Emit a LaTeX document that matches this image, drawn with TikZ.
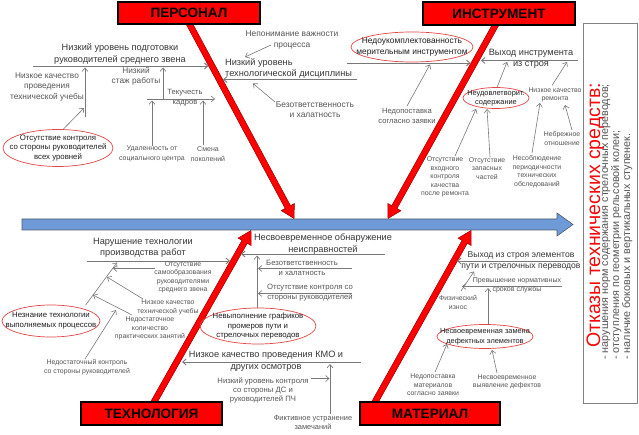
\documentclass[tikz,border=0pt]{standalone}
\usepackage{fontspec}
\setmainfont{Liberation Sans}
\usetikzlibrary{arrows.meta,shapes.geometric,calc}
\definecolor{linegray}{RGB}{120,120,120}
\definecolor{txtmain}{RGB}{55,55,55}
\definecolor{txtsub}{RGB}{85,85,85}
\definecolor{txtell}{RGB}{30,30,30}
\definecolor{ellred}{RGB}{225,70,70}
\definecolor{bonered}{RGB}{255,0,0}
\definecolor{boneedge}{RGB}{150,0,0}
\definecolor{spinefill}{RGB}{110,155,215}
\definecolor{spineedge}{RGB}{80,90,110}
\definecolor{boxgray}{RGB}{130,130,130}
\definecolor{ttlred}{RGB}{245,10,10}
\newcommand{\fishbone}[2]{%
 \filldraw[fill=bonered, draw=boneedge, line width=0.5pt]
   let \p1=($(#2)-(#1)$), \n1={veclen(\x1,\y1)}, \n2={atan2(\y1,\x1)} in
   [shift={(#1)}, rotate=\n2]
   (0,3) -- ({\n1-13},3) -- ({\n1-13},7.5) -- (\n1,0) -- ({\n1-13},-7.5) -- ({\n1-13},-3) -- (0,-3) -- cycle;}
\begin{document}
\begin{tikzpicture}[x=1pt,y=-1pt,
  catbox/.style={draw=black, line width=1.2pt, fill=bonered, font=\fontsize{13.6}{14}\selectfont\bfseries, inner sep=0pt},
  mainlbl/.style={text=txtmain, font=\fontsize{9.2}{11.5}\selectfont, align=center, inner sep=0pt},
  medlbl/.style={text=txtsub, font=\fontsize{8.3}{10.3}\selectfont, align=center, inner sep=0pt},
  smlbl/.style={text=txtsub, font=\fontsize{6.9}{8.5}\selectfont, align=center, inner sep=0pt},
  elltxt/.style={text=txtell, font=\fontsize{7.8}{9.8}\selectfont, align=center, inner sep=0pt},
  ell/.style={draw=ellred, line width=0.7pt},
  arr/.style={draw=linegray, line width=0.6pt, -{Straight Barb[length=3.5pt,width=6pt]}},
  marr/.style={arr, line width=0.85pt},
]
\useasboundingbox (0,0) rectangle (639,435);
\fill[white] (0,0) rectangle (639,435);

% ---- spine
\filldraw[fill=spinefill, draw=spineedge, line width=0.6pt]
  (22,219) -- (557,219) -- (557,213) -- (573,224.5) -- (557,236) -- (557,230) -- (22,230) -- cycle;

% ---- bones
\coordinate (pS) at (187.3,20);  \coordinate (pT) at (294,218.5);
\coordinate (iS) at (498.3,20);  \coordinate (iT) at (388,218.5);
\coordinate (tS) at (150.6,408); \coordinate (tT) at (251,230.5);
\coordinate (mS) at (371.6,408); \coordinate (mT) at (471,230.5);
\fishbone{pS}{pT}
\fishbone{iS}{iT}
\fishbone{tS}{tT}
\fishbone{mS}{mT}

% ---- category boxes
\node[catbox, minimum width=142pt, minimum height=22pt] (pers)  at (189,13)    {ПЕРСОНАЛ};
\node[catbox, minimum width=152pt, minimum height=23pt] (instr) at (499,13.5)  {ИНСТРУМЕНТ};
\node[catbox, minimum width=141pt, minimum height=23pt] (tech)  at (151.5,413.5) {ТЕХНОЛОГИЯ};
\node[catbox, minimum width=140pt, minimum height=23pt] (mat)   at (430,413.5) {МАТЕРИАЛ};

% ================= ПЕРСОНАЛ
\node[mainlbl] (t1) at (120,54) {Низкий уровень подготовки\\руководителей среднего звена};
\coordinate (l1s) at (33,66); \coordinate (l1e) at (208.5,66);
\draw[marr] (l1s) -- (l1e);
\coordinate (v1s) at (85,117); \coordinate (v1e) at (85,67.5);
\draw[arr] (v1s) -- (v1e);
\node[medlbl] (t1a) at (47,87) {Низкое качество\\проведения\\технической учебы};
\coordinate (e1c) at (58,148);
\draw[ell] (e1c) ellipse [x radius=55pt, y radius=18.5pt];
\node[elltxt] (e1) at (e1c) {Отсутствие контроля\\со стороны руководителей\\всех уровней};
\coordinate (e1a) at (63,129.5); \coordinate (e1b) at (84,108);
\draw[arr] (e1a) -- (e1b);
\coordinate (v2s) at (163,99); \coordinate (v2e) at (163,67.5);
\draw[arr] (v2s) -- (v2e);
\node[medlbl] (t1b) at (136,76.5) {Низкий\\стаж работы};
\coordinate (h2s) at (147,99); \coordinate (h2e) at (215,99);
\draw[arr] (h2s) -- (h2e);
\node[smlbl, font=\fontsize{7.6}{10}\selectfont] (t1c) at (185,98) {Текучесть\\кадров};
\node[smlbl, font=\fontsize{7}{10}\selectfont] (t1d) at (152,154) {Удаленность от\\социального центра};
\coordinate (v3e) at (152,100.5);
\draw[arr] (t1d.north) -- (v3e);
\node[smlbl, font=\fontsize{7}{10}\selectfont] (t1e) at (208,154) {Смена\\поколений};
\coordinate (v4s) at (203,145.5); \coordinate (v4e) at (203,100.5);
\draw[arr] (v4s) -- (v4e);

\coordinate (l2s) at (357,79.5); \coordinate (l2e) at (223,79.5);
\draw[marr] (l2s) -- (l2e);
\node[mainlbl, anchor=west, align=left] (t2) at (225,68.5) {Низкий уровень\\технологической дисциплины};
\node[medlbl, font=\fontsize{8.4}{10.3}\selectfont] (t2a) at (292,40) {Непонимание важности\\процесса};
\coordinate (a2s) at (271,45); \coordinate (a2e) at (245,57);
\draw[arr] (a2s) -- (a2e);
\node[medlbl, font=\fontsize{8.4}{10.3}\selectfont] (t2b) at (315,110) {Безответственность\\и халатность};
\coordinate (a3s) at (275,102); \coordinate (a3e) at (253,83.5);
\draw[arr] (a3s) -- (a3e);

% ================= ИНСТРУМЕНТ
\coordinate (l3s) at (347,63); \coordinate (l3e) at (470.5,63);
\draw[marr] (l3s) -- (l3e);
\coordinate (e2c) at (412,47);
\draw[ell] (e2c) ellipse [x radius=61pt, y radius=15pt];
\node[elltxt, font=\fontsize{8.4}{10.5}\selectfont] (e2) at (e2c) {Недоукомплектованность\\мерительным инструментом};
\node[medlbl, font=\fontsize{7.6}{10}\selectfont] (t3a) at (407,116) {Недопоставка\\согласно заявки};
\coordinate (a4s) at (407,106); \coordinate (a4e) at (430,64.5);
\draw[arr] (a4s) -- (a4e);

\coordinate (l4s) at (578,60.5); \coordinate (l4e) at (481,60.5);
\draw[marr] (l4s) -- (l4e);
\node[mainlbl] (t4) at (531,59) {Выход инструмента\\из строя};
\coordinate (e3c) at (496,98);
\draw[ell] (e3c) ellipse [x radius=33pt, y radius=10.5pt];
\node[elltxt, font=\fontsize{7.4}{9}\selectfont] (e3) at (e3c) {Неудовлетворит.\\содержание};
\coordinate (a5s) at (497,87.5); \coordinate (a5e) at (507,62);
\draw[arr] (a5s) -- (a5e);
\node[smlbl] (t4a) at (445,177) {Отсутствие\\входного\\контроля\\качества\\после ремонта};
\coordinate (a6s) at (455,156); \coordinate (a6e) at (476,109);
\draw[arr] (a6s) -- (a6e);
\node[smlbl] (t4b) at (487,168.5) {Отсутствие\\запасных\\частей};
\coordinate (a7s) at (490,157); \coordinate (a7e) at (487,109);
\draw[arr] (a7s) -- (a7e);
\node[smlbl] (t4c) at (555,95) {Низкое качество\\ремонта};
\coordinate (a8s) at (552,85.5); \coordinate (a8e) at (567,62);
\draw[arr] (a8s) -- (a8e);
\node[smlbl] (t4d) at (537,171.5) {Несоблюдение\\периодичности\\технических\\обследований};
\coordinate (a9s) at (532,153); \coordinate (a9e) at (540,103);
\draw[arr] (a9s) -- (a9e);
\node[smlbl] (t4e) at (562,138.5) {Небрежное\\отношение};
\coordinate (a10s) at (572,130); \coordinate (a10e) at (565,105);
\draw[arr] (a10s) -- (a10e);

% ================= ТЕХНОЛОГИЯ
\coordinate (l5s) at (87,261); \coordinate (l5e) at (230,261);
\draw[marr] (l5s) -- (l5e);
\node[mainlbl] (t5) at (143,248) {Нарушение технологии\\производства работ};
\coordinate (s5s) at (85.7,305); \coordinate (s5e) at (117,262.5);
\draw[arr] (s5s) -- (s5e);
\coordinate (e4c) at (51,321);
\draw[ell] (e4c) ellipse [x radius=49pt, y radius=16pt];
\node[elltxt] (e4) at (e4c) {Незнание технологии\\выполняемых процессов};
\node[smlbl] (t5a) at (183,277.5) {Отсутствие\\самообразования\\руководителями\\среднего звена};
\coordinate (b1s) at (155,268.5); \coordinate (b1e) at (113,268.5);
\draw[arr] (b1s) -- (b1e);
\node[smlbl] (t5b) at (168,307.5) {Низкое качество\\технической учебы};
\coordinate (b2s) at (143,299); \coordinate (b2e) at (107,277);
\draw[arr] (b2s) -- (b2e);
\node[smlbl] (t5c) at (150,328.5) {Недостаточное\\количество\\практических занятий};
\coordinate (b3s) at (132,315); \coordinate (b3e) at (93,295);
\draw[arr] (b3s) -- (b3e);
\node[smlbl] (t5d) at (87,367) {Недостаточный контроль\\со стороны руководителей};
\coordinate (b4s) at (85,359); \coordinate (b4e) at (116,310);
\draw[arr] (b4s) -- (b4e);

\coordinate (l6s) at (385,254); \coordinate (l6e) at (241,254);
\draw[marr] (l6s) -- (l6e);
\node[mainlbl] (t6) at (323,244) {Несвоевременное обнаружение\\неисправностей};
\coordinate (v6s) at (257,308); \coordinate (v6e) at (257,255.5);
\draw[arr] (v6s) -- (v6e);
\node[medlbl, font=\fontsize{7.7}{10}\selectfont] (t6a) at (302,268) {Безответственность\\и халатность};
\coordinate (h6as) at (352,268.5); \coordinate (h6ae) at (258,268.5);
\draw[arr] (h6as) -- (h6ae);
\node[medlbl, font=\fontsize{7.7}{10}\selectfont] (t6b) at (310,293) {Отсутствие контроля со\\стороны руководителей};
\coordinate (h6bs) at (352,293.5); \coordinate (h6be) at (258,293.5);
\draw[arr] (h6bs) -- (h6be);
\coordinate (e5c) at (258,326);
\draw[ell] (e5c) ellipse [x radius=58pt, y radius=18pt];
\node[elltxt] (e5) at (e5c) {Невыполнение графиков\\промеров пути и\\стрелочных переводов};

\coordinate (l7s) at (361,362); \coordinate (l7e) at (182,362);
\draw[marr] (l7s) -- (l7e);
\node[mainlbl, font=\fontsize{9.2}{12}\selectfont] (t7) at (266,361.5) {Низкое качество проведения КМО и\\других осмотров};
\coordinate (v7s) at (330,414); \coordinate (v7e) at (330,364);
\draw[arr] (v7s) -- (v7e);
\node[smlbl, font=\fontsize{7.7}{9}\selectfont] (t7a) at (263,390) {Низкий уровень контроля\\со стороны ДС и\\руководителей ПЧ};
\coordinate (c1s) at (311,378.5); \coordinate (c1e) at (329.5,378.5);
\draw[arr] (c1s) -- (c1e);
\node[smlbl, font=\fontsize{7.4}{9}\selectfont] (t7b) at (313,422.5) {Фиктивное устранение\\замечаний};

% ================= МАТЕРИАЛ
\coordinate (l8s) at (578,261); \coordinate (l8e) at (457,261);
\draw[marr] (l8s) -- (l8e);
\node[mainlbl, font=\fontsize{8.6}{11}\selectfont] (t8) at (521,260.5) {Выход из строя элементов\\пути и стрелочных переводов};
\coordinate (h8s) at (562,286.5); \coordinate (h8e) at (462,286.5);
\draw[arr] (h8s) -- (h8e);
\node[smlbl, font=\fontsize{7}{9}\selectfont] (t8a) at (517,285.5) {Превышение нормативных\\сроков службы};
\coordinate (v8s) at (488,323.5); \coordinate (v8e) at (488,288);
\draw[arr] (v8s) -- (v8e);
\node[smlbl] (t8b) at (458,302.5) {Физический\\износ};
\coordinate (d1s) at (461,291); \coordinate (d1e) at (474,271.5);
\draw[arr] (d1s) -- (d1e);
\coordinate (e6c) at (485,336.5);
\draw[ell] (e6c) ellipse [x radius=48pt, y radius=12pt];
\node[elltxt, font=\fontsize{7.4}{9.5}\selectfont] (e6) at (e6c) {Несвоевременная замена\\дефектных элементов};
\node[smlbl] (t8c) at (433,385) {Недопоставка\\материалов\\согласно заявки};
\coordinate (d2s) at (435,372); \coordinate (d2e) at (447,344);
\draw[arr] (d2s) -- (d2e);
\node[smlbl] (t8d) at (507,382) {Несвоевременное\\выявление дефектов};
\coordinate (d3s) at (497,373); \coordinate (d3e) at (492,350);
\draw[arr] (d3s) -- (d3e);

% ================= right box
\node[draw=boxgray, line width=0.8pt, minimum width=54pt, minimum height=380pt, inner sep=0pt] (rbox) at (610,213) {};
\node[rotate=90, anchor=base west, text=ttlred, inner sep=0pt, font=\fontsize{19.5}{20}\selectfont] (ttl) at (600,348) {Отказы технических средств:};
\node[rotate=90, anchor=north west, align=left, text=txtsub, inner sep=0pt, font=\fontsize{10.8}{11}\selectfont] (subs) at (602,360)
  {- нарушения норм содержания стрелочных переводов;\\- отступления по геометрии рельсовой колеи;\\- наличие боковых и вертикальных ступенек.};
\end{tikzpicture}
\end{document}
